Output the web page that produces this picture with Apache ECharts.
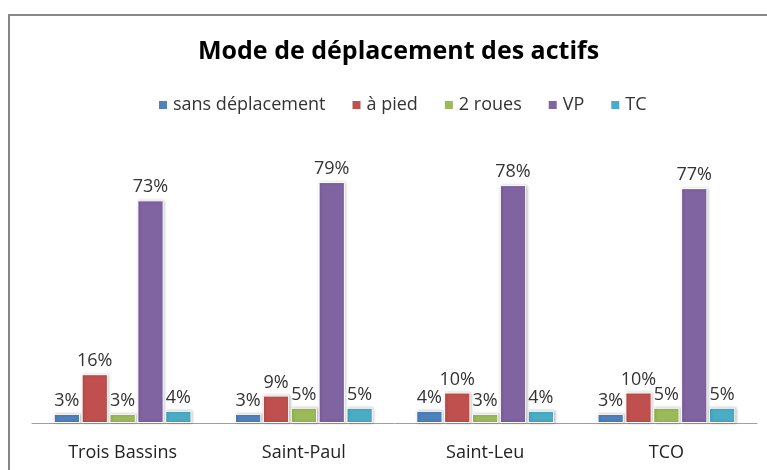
<!DOCTYPE html>
<html>
<head>
    <meta charset="UTF-8">
    <title>Mode de déplacement des actifs</title>
    <script src="https://cdn.jsdelivr.net/npm/echarts@6/dist/echarts.min.js"></script>
    <style type="text/css">
    * {
        margin: 0;
        padding: 0;
    }
    body {
        background-color: #ffffff;
    }
    #chart {
        width: 767px;
        height: 470px;
    }
    </style>
</head>
<body>
    <div id="chart"></div>
    <script>
        // donnees (en %)
        var communes = ['Trois Bassins', 'Saint-Paul', 'Saint-Leu', 'TCO'];
        var modes = ['sans déplacement', 'à pied', '2 roues', 'VP', 'TC'];
        var sansDeplacement = [3, 3, 4, 3];
        var aPied = [16, 9, 10, 10];
        var deuxRoues = [3, 5, 3, 5];
        var vp = [73, 79, 78, 77];
        var tc = [4, 5, 4, 5];
        var couleurs = ['#4F81BD', '#C0504D', '#9BBB59', '#8064A2', '#4BACC6'];

        var valeurs = [sansDeplacement, aPied, deuxRoues, vp, tc];
        var police = '"Open Sans", "Liberation Sans", sans-serif';

        var series = [];
        for (var i = 0; i < modes.length; i++) {
            series.push({
                name: modes[i],
                type: 'bar',
                data: valeurs[i],
                barGap: '6%',
                barCategoryGap: '24%',
                itemStyle: {
                    color: couleurs[i],
                    borderColor: '#ffffff',
                    borderWidth: 1,
                    shadowBlur: 3,
                    shadowColor: 'rgba(0,0,0,0.25)',
                    shadowOffsetX: 1
                },
                label: {
                    show: true,
                    position: 'top',
                    distance: 4,
                    formatter: '{c}%',
                    color: '#333333',
                    fontFamily: police,
                    fontSize: 18
                }
            });
        }

        var chart = echarts.init(document.getElementById('chart'), null, {renderer: 'canvas'});
        chart.setOption({
            animation: false,
            title: {
                text: 'Mode de déplacement des actifs',
                left: 193,
                top: 34,
                textStyle: {
                    fontFamily: police,
                    fontSize: 25,
                    fontWeight: 'bold',
                    color: '#000000'
                }
            },
            legend: {
                data: modes,
                top: 91,
                left: 152,
                itemWidth: 10,
                itemHeight: 10,
                itemGap: 25,
                icon: 'rect',
                textStyle: {
                    fontFamily: police,
                    fontSize: 18,
                    color: '#333333'
                }
            },
            grid: {
                left: 32,
                right: 10,
                top: 118,
                bottom: 47,
                containLabel: false
            },
            xAxis: {
                type: 'category',
                data: communes,
                axisLine: {lineStyle: {color: '#A0A0A0', width: 1}},
                axisTick: {show: false},
                axisLabel: {
                    margin: 21,
                    fontFamily: police,
                    fontSize: 18,
                    color: '#222222'
                }
            },
            yAxis: {
                type: 'value',
                min: 0,
                max: 100,
                show: false
            },
            graphic: [{
                type: 'rect',
                shape: {x: 9, y: 15, width: 800, height: 500},
                style: {fill: 'none', stroke: '#878787', lineWidth: 2},
                silent: true
            }],
            series: series
        });
    </script>
</body>
</html>
